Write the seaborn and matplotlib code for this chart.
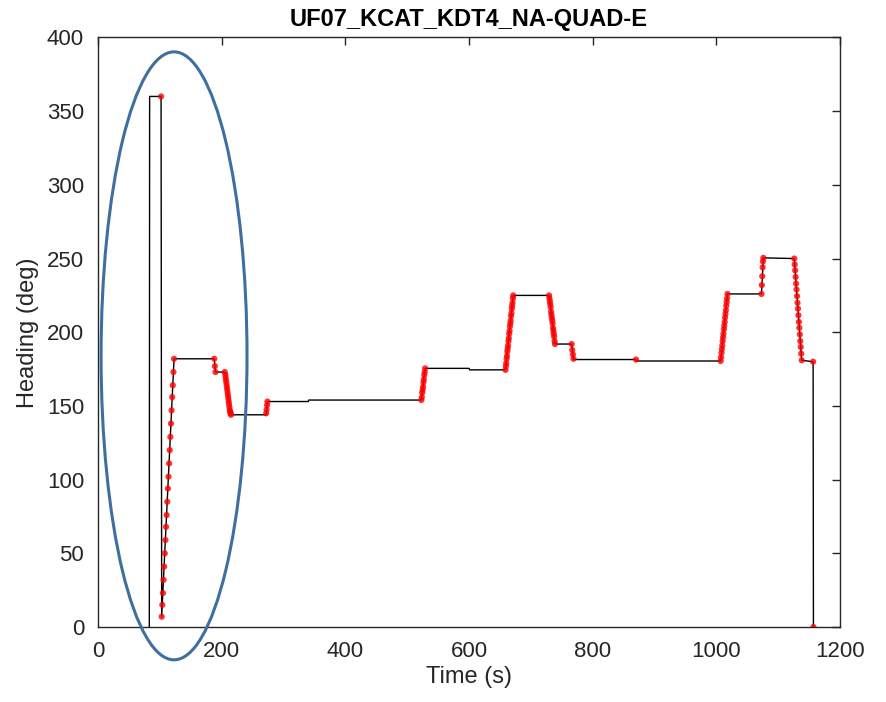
import numpy as np
import pandas as pd
import matplotlib
matplotlib.use("Agg")
import matplotlib.pyplot as plt
from matplotlib.patches import Ellipse
import seaborn as sns

# black heading trace (vertices)
line_time = [83, 83.5, 102, 103, 123, 188, 190, 205, 215, 272, 274, 340, 341, 523, 529,
             600, 601, 659, 671.5, 729.5, 739, 766, 769, 870, 871, 1007, 1018, 1073,
             1076, 1126, 1138, 1156.5, 1157]
line_heading = [0, 360, 360, 7, 182, 182, 173, 173, 144, 144, 153, 153, 154, 154, 175.5,
                175.5, 174.5, 174.5, 225, 225, 192, 192, 181.5, 181.5, 180.5, 180.5, 226, 226,
                250.5, 250, 181, 180, 0]

# red dots (turn samples)
dot_time = [
    102, 103, 104, 105, 106, 107, 108, 109, 110, 111, 112, 113, 114, 115, 116, 117, 118,
    119, 120, 121, 122, 123,
    188, 189, 190, 205,
    206, 206.6, 207.2, 207.8, 208.4, 209, 209.6, 210.2, 210.8, 211.4, 212, 212.6, 213.2,
    213.8, 214.4, 215,
    272, 272.7, 273.4, 274,
    523, 523.7, 524.3, 525, 525.7, 526.3, 527, 527.7, 528.3, 529,
    659.0, 659.6, 660.2, 660.8, 661.4, 662.0, 662.6, 663.2, 663.8, 664.4, 665.0, 665.6,
    666.2, 666.8, 667.4, 668.0, 668.6, 669.2, 669.8, 670.4, 671.0, 671.5,
    729.5, 730.1, 730.8, 731.4, 732, 732.7, 733.3, 733.9, 734.6, 735.2, 735.8, 736.5,
    737.1, 737.7, 738.4, 739,
    766, 767, 768, 769,
    870,
    1007, 1007.6, 1008.3, 1008.9, 1009.6, 1010.2, 1010.9, 1011.5, 1012.2, 1012.8, 1013.5,
    1014.1, 1014.8, 1015.4, 1016.1, 1016.7, 1017.4, 1018,
    1073, 1073.5, 1074.2, 1074.8, 1075.3, 1076,
    1126, 1126.7, 1127.5, 1128.2, 1129, 1129.7, 1130.5, 1131.2, 1132, 1132.7, 1133.5,
    1134.2, 1135, 1135.7, 1136.5, 1137.2, 1138,
    1156.5, 1157,
]
dot_heading = [
    360, 7, 15, 23, 32, 41, 50, 59, 68, 76, 85, 94, 102, 111, 120, 129, 138, 147, 156,
    164, 173, 182,
    182, 177, 173, 173,
    171, 169, 167, 165, 163, 161, 159, 157, 155, 153, 151, 149, 147, 146, 145, 144,
    145, 147.5, 150.5, 153,
    154, 156, 159, 161, 163, 166, 168, 171, 173, 175.5,
    174.5, 177, 179, 182, 184, 187, 189, 191, 194, 196, 199, 201, 204, 206, 208, 211,
    213, 216, 218, 220, 223, 225,
    225, 223, 221, 219, 217, 214, 212, 210, 208, 206, 203, 201, 199, 197, 194, 192,
    192, 188, 185, 182,
    181.5,
    180.5, 183, 186, 188.5, 191, 194, 196.5, 199, 202, 204.5, 207, 210, 212.5, 215, 218,
    220.5, 223, 226,
    226, 232, 238, 244, 248, 250.5,
    250, 246, 242, 237.5, 233, 229, 224.5, 220, 216, 211.5, 207, 203, 198.5, 194, 190,
    185.5, 181,
    180, 0,
]

title = "UF07_KCAT_KDT4_NA-QUAD-E"
x_ticks = [0, 200, 400, 600, 800, 1000, 1200]
y_ticks = [0, 50, 100, 150, 200, 250, 300, 350, 400]

sns.set_style("white")
plt.rcParams['font.family'] = ['Liberation Sans', 'DejaVu Sans']
gray = '#262626'

fig = plt.figure(figsize=(8.86, 7.02), dpi=100)
ax = fig.add_axes([0.1106, 0.1068, 0.8375, 0.8398])

line_df = pd.DataFrame({'t': line_time, 'h': line_heading})
dot_df = pd.DataFrame({'t': dot_time, 'h': dot_heading})

sns.lineplot(data=line_df, x='t', y='h', ax=ax, estimator=None, sort=False,
             color='black', linewidth=1.0, zorder=2)
sns.scatterplot(data=dot_df, x='t', y='h', ax=ax, color='red', s=20,
                edgecolor='none', alpha=0.8, zorder=3)

ax.set_xlim(0, 1200)
ax.set_ylim(0, 400)
ax.set_xticks(x_ticks)
ax.set_yticks(y_ticks)
ax.tick_params(direction='in', top=True, right=True, length=6, width=1,
               colors=gray, labelsize=16)
ax.tick_params(axis='x', pad=10)
ax.tick_params(axis='y', pad=10)
for sp in ax.spines.values():
    sp.set_color(gray)
    sp.set_linewidth(1)
ax.set_xlabel('Time (s)', fontsize=17, color=gray, labelpad=3)
ax.set_ylabel('Heading (deg)', fontsize=17, color=gray, labelpad=6)
ax.set_title(title, fontsize=17, fontweight='bold', color='black', pad=8)

# highlight ellipse around the initial turn
ell = Ellipse((123, 184), width=236, height=412.5, facecolor='none',
              edgecolor='#3F6F9E', linewidth=2.2, clip_on=False, zorder=5)
ax.add_patch(ell)

fig.savefig('out.png', dpi=100)
